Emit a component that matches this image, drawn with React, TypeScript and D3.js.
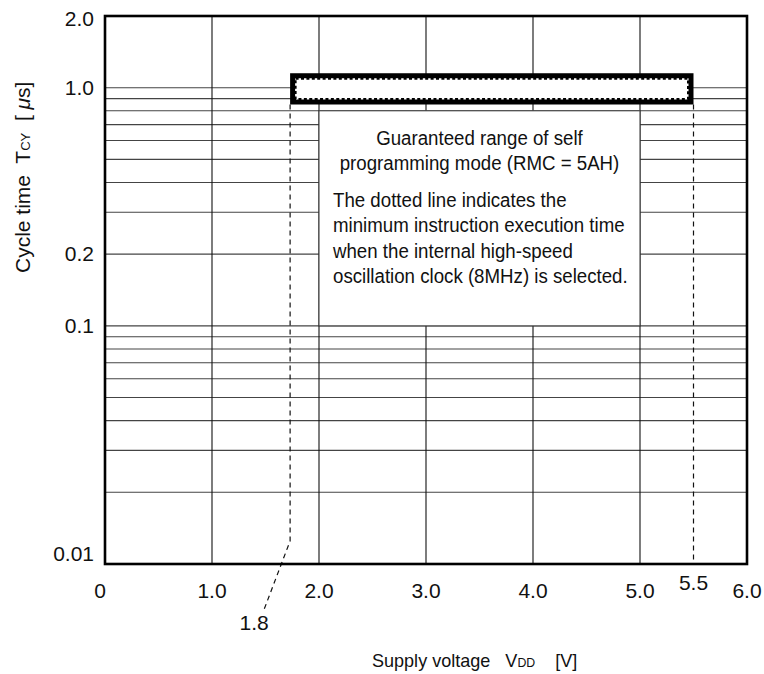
import React from "react";
import * as d3 from "d3";

// ---- data ----
const xTickValues = [0, 1, 2, 3, 4, 5, 6];
const xTickLabels = ["0", "1.0", "2.0", "3.0", "4.0", "5.0", "6.0"];
const yTickValues = [2, 1, 0.2, 0.1, 0.01];
const yTickLabels = ["2.0", "1.0", "0.2", "0.1", "0.01"];
const hGridValues = [1, 0.9, 0.8, 0.7, 0.6, 0.5, 0.4, 0.3, 0.2, 0.1, 0.09, 0.08, 0.07, 0.06, 0.05, 0.04, 0.03, 0.02];
const vGridValues = [1, 2, 3, 4, 5];
// guaranteed range rectangle
const rangeVdd = [1.73, 5.5];
const rangeTcy = [0.85, 1.15];
const rangeLabels = ["1.8", "5.5"];
// note box
const noteVdd = [2, 5];
const noteTcy = [0.1, 0.8];
const noteTitle = ["Guaranteed range of self", "programming mode (RMC = 5AH)"];
const noteBody = [
  "The dotted line indicates the",
  "minimum instruction execution time",
  "when the internal high-speed",
  "oscillation clock (8MHz) is selected.",
];

const W = 764;
const H = 674;
const FONT = "'Liberation Sans', Arial, Helvetica, sans-serif";

export default function App() {
  const x = d3.scaleLinear().domain([0, 6]).range([105, 747]);
  const y = d3.scaleLog().domain([0.01, 2]).range([564, 16]);
  const [x0, x1] = x.range();
  const [yb, yt] = y.range();

  const T = (props: any) => {
    const { x: tx, y: ty, sx = 0.89, children, anchor = "start", size = 21, rot = 0 } = props;
    return (
      <g transform={`translate(${tx},${ty}) rotate(${rot}) scale(${sx},1)`}>
        <text x={0} y={0} textAnchor={anchor} fontSize={size} fontFamily={FONT} fill="#111">
          {children}
        </text>
      </g>
    );
  };

  const kinkY = y(0.0125);
  const labX18 = x(rangeVdd[0]) - 36;
  const labY18 = yb + 66;

  return (
    <svg width={W} height={H} style={{ position: "absolute", left: 0, top: 0, background: "#fff" }}>
      <rect x={0} y={0} width={W} height={H} fill="#fff" />
      {/* horizontal grid */}
      {hGridValues.map((v) => (
        <line key={"h" + v} x1={x0} x2={x1} y1={y(v)} y2={y(v)} stroke="#444" strokeWidth={1.1} />
      ))}
      {/* vertical grid */}
      {vGridValues.map((v) => (
        <line key={"v" + v} x1={x(v)} x2={x(v)} y1={yt} y2={yb} stroke="#111" strokeWidth={1.1} />
      ))}
      {/* dashed guide lines */}
      <path
        d={`M${x(rangeVdd[0])},${y(rangeTcy[0])} L${x(rangeVdd[0])},${kinkY} L${labX18 + 9},${labY18 - 18}`}
        fill="none"
        stroke="#111"
        strokeWidth={1.2}
        strokeDasharray="5,4"
      />
      <line
        x1={x(rangeVdd[1])}
        x2={x(rangeVdd[1])}
        y1={y(rangeTcy[0])}
        y2={yb}
        stroke="#111"
        strokeWidth={1.2}
        strokeDasharray="5,4"
      />
      {/* note box */}
      <rect
        x={x(noteVdd[0])}
        y={y(noteTcy[1])}
        width={x(noteVdd[1]) - x(noteVdd[0])}
        height={y(noteTcy[0]) - y(noteTcy[1])}
        fill="#fff"
        stroke="#444"
        strokeWidth={1.1}
      />
      {noteTitle.map((s, i) => (
        <T key={"nt" + i} x={(x(noteVdd[0]) + x(noteVdd[1])) / 2} y={145 + i * 25} anchor="middle">
          {s}
        </T>
      ))}
      {noteBody.map((s, i) => (
        <T key={"nb" + i} x={x(noteVdd[0]) + 14} y={207 + i * 25.3}>
          {s}
        </T>
      ))}
      {/* guaranteed range rectangle */}
      <rect
        x={x(rangeVdd[0]) + 2.5}
        y={y(rangeTcy[1]) + 2.5}
        width={x(rangeVdd[1]) - x(rangeVdd[0]) - 5}
        height={y(rangeTcy[0]) - y(rangeTcy[1]) - 5}
        fill="#fff"
        stroke="#000"
        strokeWidth={5}
      />
      <rect
        x={x(rangeVdd[0]) + 5.5}
        y={y(rangeTcy[1]) + 5.5}
        width={x(rangeVdd[1]) - x(rangeVdd[0]) - 11}
        height={y(rangeTcy[0]) - y(rangeTcy[1]) - 11}
        fill="none"
        stroke="#000"
        strokeWidth={2}
        strokeDasharray="3,2.4"
      />
      {/* frame */}
      <rect x={x0} y={yt} width={x1 - x0} height={yb - yt} fill="none" stroke="#000" strokeWidth={2.6} />
      {/* y tick labels */}
      {yTickValues.map((v, i) => (
        <T key={"yl" + i} x={94} y={Math.min(Math.max(y(v) + 7, yt + 10), yb - 3)} anchor="end" sx={1}>
          {yTickLabels[i]}
        </T>
      ))}
      {/* x tick labels */}
      {xTickValues.map((v, i) => (
        <T key={"xl" + i} x={x(v) - (i === 0 ? 5 : 0)} y={598} anchor="middle" sx={1}>
          {xTickLabels[i]}
        </T>
      ))}
      <T x={x(rangeVdd[1])} y={590} anchor="middle" sx={1}>
        {rangeLabels[1]}
      </T>
      <T x={labX18} y={labY18} anchor="middle" sx={1}>
        {rangeLabels[0]}
      </T>
      {/* axis titles */}
      <T x={372} y={667} size={19} sx={0.95}>
        Supply voltage
        <tspan xmlSpace="preserve">{"   V"}</tspan>
        <tspan fontSize={13}>DD</tspan>
        <tspan xmlSpace="preserve">{"    [V]"}</tspan>
      </T>
      <T x={30} y={273} rot={-90} size={21} sx={1}>
        <tspan>Cycle time</tspan>
        <tspan xmlSpace="preserve">{"  T"}</tspan>
        <tspan fontSize={13}>CY</tspan>
        <tspan xmlSpace="preserve">{"  [ "}</tspan>
        <tspan fontStyle="italic">μ</tspan>
        <tspan>s]</tspan>
      </T>
    </svg>
  );
}
